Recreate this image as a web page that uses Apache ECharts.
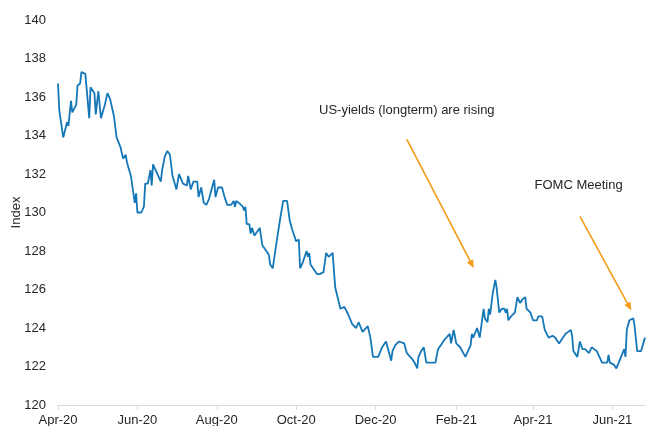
<!DOCTYPE html>
<html>
<head>
<meta charset="utf-8">
<script src="https://cdn.jsdelivr.net/npm/echarts@6/dist/echarts.min.js"></script>
<style>
  html, body { margin: 0; padding: 0; background: #ffffff; }
  #chart { width: 646px; height: 426px; }
</style>
</head>
<body>
<div id="chart"></div>
<script>
// Index level, daily observations
const dates = [
  '2020-04-01','2020-04-02','2020-04-03','2020-04-05','2020-04-08','2020-04-09','2020-04-11','2020-04-12','2020-04-15','2020-04-16',
  '2020-04-18','2020-04-19','2020-04-22','2020-04-25','2020-04-26','2020-04-29','2020-04-30','2020-05-02','2020-05-04','2020-05-07',
  '2020-05-09','2020-05-11','2020-05-14','2020-05-16','2020-05-19','2020-05-21','2020-05-23','2020-05-24','2020-05-27','2020-05-30',
  '2020-05-31','2020-06-01','2020-06-04','2020-06-06','2020-06-07','2020-06-09','2020-06-11','2020-06-12','2020-06-13','2020-06-17',
  '2020-06-19','2020-06-20','2020-06-22','2020-06-24','2020-06-26','2020-06-28','2020-07-01','2020-07-03','2020-07-06','2020-07-09',
  '2020-07-10','2020-07-12','2020-07-14','2020-07-17','2020-07-18','2020-07-20','2020-07-22','2020-07-24','2020-07-26','2020-07-27',
  '2020-07-30','2020-07-31','2020-08-02','2020-08-05','2020-08-07','2020-08-08','2020-08-09','2020-08-12','2020-08-14','2020-08-15',
  '2020-08-16','2020-08-18','2020-08-21','2020-08-22','2020-08-23','2020-08-24','2020-08-26','2020-08-27','2020-08-28','2020-08-30',
  '2020-09-03','2020-09-05','2020-09-06','2020-09-10','2020-09-11','2020-09-13','2020-09-16','2020-09-17','2020-09-19','2020-09-21',
  '2020-09-24','2020-09-26','2020-09-28','2020-10-01','2020-10-03','2020-10-04','2020-10-06','2020-10-09','2020-10-10','2020-10-11',
  '2020-10-12','2020-10-15','2020-10-17','2020-10-19','2020-10-20','2020-10-22','2020-10-23','2020-10-24','2020-10-26','2020-10-27',
  '2020-10-29','2020-10-31','2020-11-04','2020-11-05','2020-11-07','2020-11-10','2020-11-13','2020-11-14','2020-11-16','2020-11-18',
  '2020-11-21','2020-11-25','2020-11-27','2020-11-29','2020-12-03','2020-12-04','2020-12-06','2020-12-09','2020-12-13','2020-12-14',
  '2020-12-16','2020-12-19','2020-12-23','2020-12-25','2020-12-29','2020-12-31','2021-01-01','2021-01-02','2021-01-03','2021-01-05',
  '2021-01-07','2021-01-09','2021-01-10','2021-01-11','2021-01-14','2021-01-16','2021-01-18','2021-01-21','2021-01-22','2021-01-23',
  '2021-01-24','2021-01-27','2021-01-28','2021-01-30','2021-02-01','2021-02-04','2021-02-08','2021-02-10','2021-02-12','2021-02-13',
  '2021-02-14','2021-02-17','2021-02-19','2021-02-22','2021-02-23','2021-02-25','2021-02-26','2021-02-27','2021-03-01','2021-03-03',
  '2021-03-04','2021-03-06','2021-03-08','2021-03-10','2021-03-11','2021-03-12','2021-03-13','2021-03-15','2021-03-18','2021-03-20',
  '2021-03-22','2021-03-24','2021-03-26','2021-03-27','2021-03-30','2021-04-01','2021-04-02','2021-04-04','2021-04-05','2021-04-08',
  '2021-04-10','2021-04-13','2021-04-16','2021-04-18','2021-04-21','2021-04-23','2021-04-26','2021-04-28','2021-04-30','2021-05-01',
  '2021-05-02','2021-05-05','2021-05-06','2021-05-07','2021-05-09','2021-05-11','2021-05-12','2021-05-14','2021-05-16','2021-05-20',
  '2021-05-22','2021-05-24','2021-05-28','2021-05-29','2021-05-30','2021-06-02','2021-06-04','2021-06-05','2021-06-07','2021-06-08',
  '2021-06-10','2021-06-11','2021-06-12','2021-06-14','2021-06-17','2021-06-18','2021-06-20','2021-06-23','2021-06-24','2021-06-26'
];

const values = [
  136.7,135.3,135.4,133.9,134.7,134.5,135.8,135.2,135.6,136.6,
  136.7,137.3,137.2,134.9,136.5,136.2,135.1,136.3,134.9,135.6,
  136.2,135.9,135.0,133.9,133.4,132.8,133.0,132.6,131.9,130.5,
  131.0,130.0,130.0,130.3,131.5,131.5,132.2,131.4,132.5,131.9,
  131.6,132.2,132.9,133.2,133.0,131.9,131.2,132.0,131.5,131.4,
  131.9,131.2,131.6,131.6,130.8,131.3,130.5,130.4,130.7,130.6,
  131.7,130.8,131.3,131.3,130.8,130.8,130.4,130.4,130.6,130.3,
  130.6,130.5,130.3,130.1,130.3,129.4,129.4,128.9,129.2,128.8,
  129.2,128.3,128.4,127.8,127.3,127.1,128.5,128.6,129.8,130.6,
  130.6,129.6,129.1,128.5,128.6,127.1,127.4,128.0,127.7,127.9,
  127.3,127.0,126.8,126.8,126.7,126.9,126.8,127.9,127.7,127.8,
  127.9,126.1,125.0,125.1,125.1,124.7,124.2,124.2,124.0,124.3,
  123.8,124.1,123.5,122.5,122.5,122.4,123.0,123.3,122.3,122.8,
  123.1,123.3,123.2,122.7,122.4,122.2,122.3,121.9,122.5,122.8,
  123.0,122.2,122.3,122.2,122.2,122.2,122.9,123.2,123.3,123.4,
  123.3,123.7,123.2,123.9,123.2,123.0,122.5,122.8,123.1,123.7,
  123.5,124.0,123.5,125.0,124.5,124.3,125.0,124.7,125.8,126.5,
  126.1,124.8,125.0,125.0,124.8,125.0,124.4,124.6,124.8,125.6,
  125.3,125.5,125.6,125.0,124.8,124.4,124.5,124.4,124.6,124.6,
  123.9,123.5,123.6,123.5,123.2,123.4,123.7,123.8,123.9,123.6,
  122.8,122.5,122.5,123.3,122.9,122.9,122.9,122.7,123.0,122.8,
  122.5,122.2,122.2,122.6,122.2,122.1,121.9,121.8,122.4,122.3,
  122.9,122.5,123.9,124.4,124.5,124.1,122.8,122.8,122.9,123.5
];

// x-axis tick dates (first of every second month) and the axis range
const tickDates = ['2020-04-01','2020-06-01','2020-08-01','2020-10-01','2020-12-01','2021-02-01','2021-04-01','2021-06-01'];
const axisStart = '2020-04-01';
const axisEnd = '2021-06-26';
const monthNames = ['Jan','Feb','Mar','Apr','May','Jun','Jul','Aug','Sep','Oct','Nov','Dec'];

// y-axis scale
const yMin = 120, yMax = 140, yStep = 2;

// annotations: text anchor [date, value] and arrow [from, to]
const noteTexts = ['US-yields (longterm) are rising', 'FOMC Meeting'];
const noteAnchors = [['2020-12-25', 135.3], ['2021-05-06', 131.4]];
const noteArrows = [
  [['2020-12-25', 133.8], ['2021-02-13', 127.3]],
  [['2021-05-07', 129.8], ['2021-06-14', 125.1]]
];

// calendar date -> timestamp (local midnight), used as the linear x value
function ts(s) {
  const p = s.split('-').map(Number);
  return new Date(p[0], p[1] - 1, p[2]).getTime();
}

const seriesData = dates.map((d, i) => [ts(d), values[i]]);
const tickValues = tickDates.map(ts);

const chart = echarts.init(document.getElementById('chart'), null, { renderer: 'canvas' });

const textColor = '#262626';
const fontFamily = '"Liberation Sans", Arial, sans-serif';

chart.setOption({
  animation: false,
  backgroundColor: '#ffffff',
  grid: { left: 58, right: 1, top: 20, bottom: 21, containLabel: false, outerBoundsMode: 'none' },
  xAxis: {
    type: 'value',
    min: ts(axisStart),
    max: ts(axisEnd),
    axisLine: { show: true, lineStyle: { color: '#d9d9d9', width: 1 } },
    axisTick: {
      show: true,
      length: 5,
      lineStyle: { color: '#d9d9d9' },
      customValues: tickValues
    },
    axisLabel: {
      show: true,
      margin: 9,
      color: textColor,
      fontSize: 13,
      fontFamily: fontFamily,
      customValues: tickValues,
      formatter: function (v) {
        const d = new Date(v);
        return monthNames[d.getMonth()] + '-' + String(d.getFullYear()).slice(2);
      }
    },
    splitLine: { show: false }
  },
  yAxis: {
    type: 'value',
    min: yMin,
    max: yMax,
    interval: yStep,
    name: 'Index',
    nameLocation: 'middle',
    nameGap: 35,
    nameMoveOverlap: false,
    nameTextStyle: { color: textColor, fontSize: 13, fontFamily: fontFamily },
    axisLine: { show: false },
    axisTick: { show: false },
    axisLabel: { margin: 12, color: textColor, fontSize: 13, fontFamily: fontFamily },
    splitLine: { show: false }
  },
  series: [{
    type: 'line',
    data: seriesData,
    showSymbol: false,
    symbol: 'none',
    lineStyle: { color: '#1477b8', width: 1.8 },
    itemStyle: { color: '#1477b8' },
    emphasis: { disabled: true },
    markLine: {
      silent: true,
      symbol: ['none', 'triangle'],
      symbolSize: [7, 8],
      lineStyle: { color: '#f39c1a', width: 1.6, type: 'solid' },
      label: { show: false },
      emphasis: { disabled: true },
      data: noteArrows.map(a => [
        { coord: [ts(a[0][0]), a[0][1]] },
        { coord: [ts(a[1][0]), a[1][1]] }
      ])
    },
    markPoint: {
      silent: true,
      symbol: 'circle',
      symbolSize: 1,
      itemStyle: { color: 'rgba(0,0,0,0)' },
      label: {
        show: true,
        position: 'inside',
        color: textColor,
        fontSize: 13,
        fontFamily: fontFamily
      },
      data: noteAnchors.map((a, i) => ({
        coord: [ts(a[0]), a[1]],
        value: noteTexts[i],
        label: { formatter: noteTexts[i] }
      }))
    }
  }]
});
</script>
</body>
</html>
